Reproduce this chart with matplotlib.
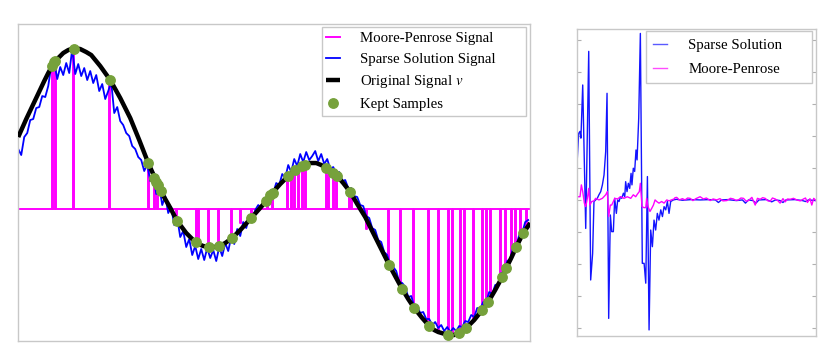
import numpy as np
import matplotlib
matplotlib.use("Agg")
import matplotlib.pyplot as plt

plt.rcParams['font.family'] = ['Liberation Serif', 'DejaVu Serif']
plt.rcParams['mathtext.fontset'] = 'stix'

# ---- left panel: reconstruction of the signal (sample index, amplitude) ----
orig_x = [0, 8, 17, 26, 30, 35, 40, 45, 50, 56, 62, 68, 73, 82, 92, 102, 112, 121, 130,
          143, 151, 159, 168, 178, 185, 191, 196, 201, 207, 214, 223, 233, 241, 248, 254,
          262, 270, 277, 285, 291, 298, 303, 308, 313, 319, 325, 332, 339, 347, 359, 371,
          378, 384, 390, 396, 404, 411, 416, 420, 430, 436, 441, 448, 456, 464, 470, 477,
          484, 488, 493, 498, 505, 512]
orig_y = [0.72, 0.90, 1.09, 1.28, 1.36, 1.45, 1.51, 1.56, 1.59, 1.61, 1.60, 1.57, 1.54,
          1.43, 1.29, 1.11, 0.91, 0.69, 0.46, 0.17, 0.03, -0.12, -0.24, -0.34, -0.37,
          -0.38, -0.38, -0.37, -0.34, -0.29, -0.20, -0.09, 0.00, 0.08, 0.16, 0.25, 0.33,
          0.39, 0.44, 0.46, 0.46, 0.44, 0.41, 0.38, 0.33, 0.26, 0.17, 0.05, -0.08, -0.32,
          -0.56, -0.69, -0.80, -0.90, -0.99, -1.09, -1.17, -1.21, -1.23, -1.26, -1.26,
          -1.24, -1.19, -1.11, -1.01, -0.93, -0.81, -0.68, -0.59, -0.49, -0.38, -0.24, -0.14]

# sparse solution, one value every 3 samples
sparse_sig = [0.60, 0.54, 0.72, 0.76, 0.89, 0.90, 1.01, 1.02, 1.13, 1.12, 1.23, 1.43,
              1.47, 1.30, 1.42, 1.34, 1.46, 1.36, 1.60, 1.35, 1.45, 1.33, 1.41, 1.29,
              1.38, 1.26, 1.34, 1.18, 1.25, 1.10, 1.18, 1.27, 0.96, 1.02, 0.88, 0.84,
              0.76, 0.73, 0.63, 0.60, 0.52, 0.49, 0.38, 0.45, 0.28, 0.34, 0.15, 0.23,
              0.04, 0.13, -0.04, 0.02, -0.16, -0.09, -0.28, -0.22, -0.38, -0.30, -0.46,
              -0.37, -0.50, -0.40, -0.51, -0.39, -0.49, -0.41, -0.52, -0.38, -0.47, -0.34,
              -0.42, -0.28, -0.35, -0.20, -0.27, -0.13, -0.19, -0.08, -0.11, -0.01, 0.04,
              0.01, 0.10, 0.08, 0.17, 0.16, 0.26, 0.24, 0.35, 0.31, 0.44, 0.37, 0.50,
              0.43, 0.55, 0.47, 0.57, 0.49, 0.53, 0.58, 0.48, 0.55, 0.45, 0.50, 0.40,
              0.42, 0.36, 0.37, 0.28, 0.29, 0.21, 0.21, 0.13, 0.12, 0.04, 0.03, -0.07,
              -0.09, -0.19, -0.21, -0.31, -0.33, -0.43, -0.46, -0.56, -0.58, -0.62, -0.73,
              -0.74, -0.78, -0.88, -0.87, -0.97, -0.97, -1.04, -1.03, -1.10, -1.10, -1.16,
              -1.13, -1.19, -1.16, -1.22, -1.18, -1.23, -1.19, -1.22, -1.17, -1.18, -1.12,
              -1.13, -1.06, -1.08, -0.99, -1.00, -0.93, -0.93, -0.83, -0.85, -0.76, -0.75,
              -0.64, -0.63, -0.52, -0.50, -0.38, -0.37, -0.26, -0.24, -0.13, -0.11]

# kept samples
kept_x = [34, 36, 37, 56, 92, 130, 136, 138, 140, 143, 159, 178, 191, 201, 214, 233, 248,
          252, 255, 270, 277, 284, 287, 308, 315, 319, 332, 371, 384, 396, 411, 430, 441,
          448, 464, 470, 484, 488, 498, 505]
kept_y = [1.43, 1.47, 1.48, 1.60, 1.29, 0.46, 0.31, 0.27, 0.24, 0.18, -0.12, -0.33, -0.38,
          -0.37, -0.29, -0.09, 0.08, 0.14, 0.16, 0.33, 0.39, 0.43, 0.44, 0.41, 0.36, 0.33,
          0.17, -0.56, -0.80, -0.99, -1.17, -1.26, -1.24, -1.19, -1.01, -0.93, -0.68,
          -0.59, -0.38, -0.24]

# Moore-Penrose signal: zero except at these samples
mp_pos = [34, 37, 55, 91, 130, 136, 139, 158, 178, 180, 190, 200, 213, 222, 233, 249, 254,
          269, 273, 276, 280, 284, 287, 308, 310, 315, 318, 331, 333, 348, 370, 382, 395,
          410, 420, 430, 434, 442, 446, 455, 464, 468, 472, 482, 487, 493, 497, 502, 508]
mp_val = [1.42, 1.47, 1.59, 1.27, 0.45, 0.29, 0.23, -0.10, -0.32, -0.33, -0.37, -0.36,
          -0.28, -0.14, -0.08, 0.11, 0.16, 0.32, 0.35, 0.38, 0.40, 0.43, 0.44, 0.40, 0.39,
          0.36, 0.33, 0.17, 0.15, -0.20, -0.55, -0.80, -0.98, -1.16, -1.22, -1.25, -1.25,
          -1.23, -1.20, -1.10, -1.01, -0.95, -0.89, -0.71, -0.61, -0.49, -0.40, -0.31, -0.18]

# ---- right panel: coefficients ----
coef_x = [0, 0.9, 1.8, 2.4, 3.6, 5.6, 7.6, 8.9, 10.2, 11.1, 12.2, 13.3, 14.4, 15.6, 16.7,
          17.8, 18.9, 19.8, 20.9, 22, 22.9, 24, 24.9, 26, 26.9, 27.8, 28.7, 29.6, 30.7,
          31.6, 32.2, 33.1, 34, 34.9, 35.8, 36.4, 37.3, 38.2, 39.1, 39.8, 40.9, 42, 43.3,
          44.5, 45.6, 46.7, 47.8, 48.9, 50, 51.1, 52.2, 53.3, 54.4, 55.6, 56.7, 57.8, 58.9,
          60, 61.1, 62.2, 64, 66, 70, 76, 82, 88, 92, 94, 96, 100, 106, 110, 112, 114, 117,
          119, 121, 126, 129.5, 132, 135, 137, 139, 145, 150, 152, 154, 159]
sparse_coef = [1.30, 2.08, 2.14, 1.93, 3.59, -0.89, 4.64, -2.50, -1.67, -0.05, 0.0, 0.05,
               0.16, 0.26, 0.47, 0.78, 1.51, 3.33, -3.70, -0.47, -0.99, -0.99, 0.05, -0.42,
               0.0, -0.05, 0.10, 0.05, 0.21, 0.10, 0.57, 0.26, 0.52, 0.36, 0.83, 0.47,
               0.99, 0.89, 1.56, 1.25, 2.55, 5.20, -1.98, -1.98, -2.60, 0.73, -4.06, -0.94,
               -1.46, -0.63, -0.94, -0.42, -0.63, -0.31, -0.52, -0.21, -0.31, -0.05, -0.42,
               -0.05, 0.0, 0.02, -0.01, 0.01, 0.0, 0.01, 0.0, -0.08, 0.0, 0.01, -0.02, 0.0,
               -0.10, 0.0, -0.02, -0.10, 0.0, 0.01, -0.06, 0.0, -0.02, -0.08, 0.0, 0.01,
               -0.02, -0.05, 0.0, -0.02]

mpc_x = [0, 1.8, 2.7, 3.6, 4.7, 5.6, 6.7, 7.6, 8.4, 9.6, 11.1, 12.2, 14.4, 16.7, 18.9, 20,
         20.9, 22, 22.9, 24, 24.9, 26.7, 28.9, 31.1, 33.3, 35.6, 37.3, 38.9, 40, 41.3, 42,
         43.1, 44.4, 45.6, 46.2, 47.1, 48.4, 49.6, 50.7, 51.8, 52.9, 54.4, 56.2, 57.8, 59.6,
         61.1, 62.7, 64.4, 65.1, 66.2, 68, 70, 71.8, 73.5, 75.1, 77, 79, 81.8, 84, 86, 88.5,
         90.5, 92.9, 95, 97, 99.6, 102, 104, 105.5, 107.3, 109, 110.7, 112.5, 114, 116.3,
         118.5, 120, 121.8, 123.5, 125.1, 127, 128.5, 130, 131.8, 133.5, 135.1, 137, 138.5,
         140, 141.8, 144, 146.2, 148.5, 150.7, 152, 153.3, 155, 156.2, 157.5, 159]
mp_coef = [0.10, 0.10, 0.47, 0.26, -0.10, -0.21, 0.05, 0.36, -0.16, -0.05, -0.03, 0.05,
           0.0, 0.05, 0.16, 0.26, -0.52, -0.16, -0.16, -0.05, 0.05, 0.03, 0.10, 0.05,
           0.10, 0.05, 0.16, 0.10, 0.18, 0.26, 0.52, -0.21, -0.24, -0.24, 0.05, -0.21,
           -0.36, -0.26, -0.16, 0.0, -0.05, -0.10, -0.05, -0.10, 0.0, -0.03, 0.0, 0.03,
           0.07, 0.08, 0.0, 0.04, 0.0, 0.06, 0.05, -0.02, 0.04, 0.10, 0.03, 0.06, -0.02,
           0.03, 0.0, 0.04, -0.03, -0.02, 0.05, 0.03, -0.01, 0.0, 0.06, 0.05, -0.04,
           -0.02, 0.08, -0.16, 0.05, 0.02, 0.07, 0.05, -0.03, -0.04, 0.06, 0.03, -0.02,
           -0.10, 0.04, -0.06, 0.03, 0.02, 0.05, 0.0, -0.03, 0.03, 0.06, -0.08, 0.04,
           -0.16, 0.05, -0.02]

ticks_right = [-4, -3, -2, -1, 0, 1, 2, 3, 4, 5]

frame_col = '#c8c8c8'
green = '#76a13b'

fig = plt.figure(figsize=(8.29, 3.57), dpi=100)
ax1 = fig.add_axes([0.022, 0.0448, 0.6171, 0.887])
ax2 = fig.add_axes([0.6964, 0.0588, 0.2879, 0.861])

# left panel
n = np.arange(0, 512)
mp_sig = np.zeros(len(n))
for p, v in zip(mp_pos, mp_val):
    mp_sig[p] = v
sparse_n = np.arange(len(sparse_sig)) * 3

ax1.plot(n, mp_sig, color='#ff00ff', lw=1.4, drawstyle='steps-mid',
         label='Moore-Penrose Signal', zorder=1)
ax1.plot(sparse_n, sparse_sig, color='#0000ff', lw=1.3,
         label='Sparse Solution Signal', zorder=2)
ax1.plot(orig_x, orig_y, color='black', lw=3.2, solid_capstyle='butt',
         label='Original Signal $v$', zorder=3)
ax1.plot(kept_x, kept_y, 'o', color=green, ms=6.8, mec=green,
         label='Kept Samples', zorder=4)
ax1.set_xlim(0, 511.6)
ax1.set_ylim(-1.32, 1.847)
ax1.set_xticks([])
ax1.set_yticks([])
leg1 = ax1.legend(loc='upper left', bbox_to_anchor=(0.5932, 0, 0.3993, 0.9905),
                  mode='expand', borderaxespad=0, fontsize=10.7, handlelength=0.95,
                  handletextpad=1.35, labelspacing=0.5, borderpad=0.3,
                  fancybox=False, framealpha=1, edgecolor=frame_col)
leg1.get_frame().set_linewidth(1.0)

# right panel
ax2.plot(coef_x, sparse_coef, color='#1414ff', lw=1.0, label='Sparse Solution')
ax2.plot(mpc_x, mp_coef, color='#ff00ff', lw=1.0, label='Moore-Penrose')
ax2.set_xlim(0, 159)
ax2.set_ylim(-4.25, 5.35)
ax2.set_xticks([])
ax2.set_yticks(ticks_right)
ax2.set_yticklabels([])
ax2.tick_params(axis='y', direction='in', left=True, right=True, length=3,
                width=0.8, color='#b0b0b0')
leg2 = ax2.legend(loc='upper left', bbox_to_anchor=(0.2878, 0, 0.6954, 0.9915),
                  mode='expand', borderaxespad=0, fontsize=10.7, handlelength=0.9,
                  handletextpad=1.45, labelspacing=0.7, borderpad=0.5,
                  fancybox=False, framealpha=1, edgecolor=frame_col)
leg2.get_frame().set_linewidth(1.0)
for h in leg2.get_lines():
    h.set_alpha(0.7)

for ax in (ax1, ax2):
    for s in ax.spines.values():
        s.set_color(frame_col)
        s.set_linewidth(1.0)

fig.savefig('out.png', dpi=100)
